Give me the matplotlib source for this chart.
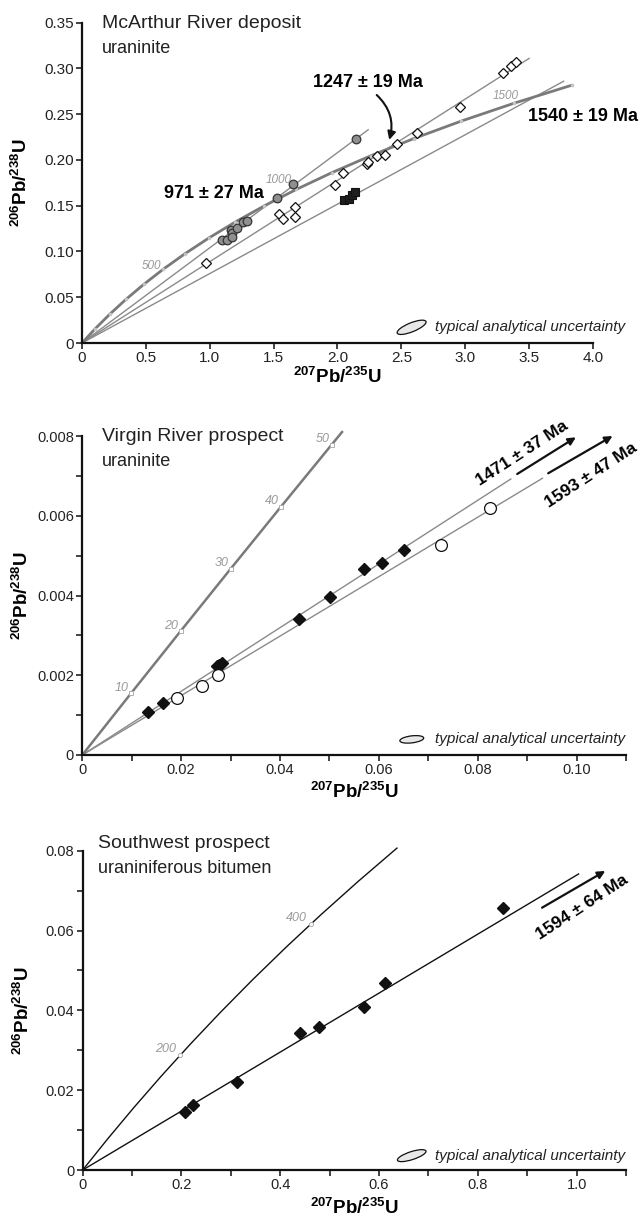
import matplotlib
matplotlib.use('Agg')
import matplotlib.pyplot as plt
from matplotlib.patches import Ellipse
from matplotlib.transforms import ScaledTranslation

plt.rcParams['font.family'] = ['Liberation Sans', 'DejaVu Sans']
plt.rcParams['mathtext.fontset'] = 'custom'
plt.rcParams['mathtext.rm'] = 'Liberation Sans:bold'
plt.rcParams['mathtext.it'] = 'Liberation Sans:bold'
plt.rcParams['mathtext.bf'] = 'Liberation Sans:bold'
plt.rcParams['mathtext.default'] = 'rm'

# ---------------- DATA ----------------
# Panel A: McArthur River deposit (uraninite)
concA_age = [0, 100, 200, 300, 400, 500, 600, 700, 800, 900, 1000, 1100, 1200, 1300, 1400, 1500, 1600]
concA_x = [0, 0.1035, 0.2177, 0.3437, 0.4828, 0.6362, 0.8056, 0.9925, 1.1987, 1.4263, 1.6774, 1.9545,
           2.2603, 2.5977, 2.9701, 3.3811, 3.8346]
concA_y = [0, 0.01563, 0.03151, 0.04764, 0.06402, 0.08065, 0.09754, 0.11470, 0.13213, 0.14983, 0.16781,
           0.18606, 0.20460, 0.22342, 0.24256, 0.26197, 0.28172]
concA_labels = [500, 1000, 1500]

lineA_971_x = [0, 2.24]
lineA_971_y = [0, 0.233]
lineA_1247_x = [0, 3.50]
lineA_1247_y = [0, 0.311]
lineA_1540_x = [0, 3.77]
lineA_1540_y = [0, 0.286]

circA_x = [1.093, 1.133, 1.166, 1.177, 1.172, 1.216, 1.258, 1.289, 1.524, 1.649, 2.142]
circA_y = [0.1126, 0.1126, 0.1235, 0.1199, 0.1155, 0.1260, 0.1326, 0.1337, 0.1581, 0.1738, 0.2230]
diamA_x = [0.968, 1.545, 1.571, 1.670, 1.670, 1.978, 2.046, 2.228, 2.241, 2.306, 2.372, 2.468, 2.620,
           2.959, 3.293, 3.356, 3.395]
diamA_y = [0.0871, 0.1413, 0.1358, 0.1490, 0.1377, 0.1730, 0.1854, 0.1953, 0.1982, 0.2044, 0.2055,
           0.2175, 0.2292, 0.2576, 0.2954, 0.3031, 0.3068]
sqA_x = [2.053, 2.090, 2.116, 2.137]
sqA_y = [0.1563, 0.1575, 0.1617, 0.1647]

A_xticks = [0, 0.5, 1.0, 1.5, 2.0, 2.5, 3.0, 3.5, 4.0]
A_xticklabels = ['0', '0.5', '1.0', '1.5', '2.0', '2.5', '3.0', '3.5', '4.0']
A_yticks = [0, 0.05, 0.10, 0.15, 0.20, 0.25, 0.30, 0.35]
A_yticklabels = ['0', '0.05', '0.10', '0.15', '0.20', '0.25', '0.30', '0.35']

# Panel B: Virgin River prospect (uraninite)
concB_age = [0, 10, 20, 30, 40, 50, 52]
concB_x = [0, 0.009897, 0.019893, 0.029986, 0.040180, 0.050475, 0.052546]
concB_y = [0, 0.0015525, 0.0031073, 0.0046646, 0.0062243, 0.0077863, 0.0080991]
concB_labels = [10, 20, 30, 40, 50]

lineB_1471_x = [0, 0.0867]
lineB_1471_y = [0, 0.006922]
lineB_1593_x = [0, 0.0931]
lineB_1593_y = [0, 0.00694]

diamB_x = [0.01323, 0.01638, 0.02718, 0.02770, 0.02820, 0.04383, 0.0501, 0.05704, 0.06068, 0.06513]
diamB_y = [0.001086, 0.001312, 0.002232, 0.002260, 0.002299, 0.003403, 0.00397, 0.004665, 0.004807, 0.005141]
circB_x = [0.01909, 0.02415, 0.02739, 0.07255, 0.08247]
circB_y = [0.001437, 0.001739, 0.002006, 0.005266, 0.006202]

B_xticks = [0, 0.01, 0.02, 0.03, 0.04, 0.05, 0.06, 0.07, 0.08, 0.09, 0.10, 0.11]
B_xticklabels = ['0', '', '0.02', '', '0.04', '', '0.06', '', '0.08', '', '0.10', '']
B_yticks = [0, 0.001, 0.002, 0.003, 0.004, 0.005, 0.006, 0.007, 0.008]
B_yticklabels = ['0', '', '0.002', '', '0.004', '', '0.006', '', '0.008']

# Panel C: Southwest prospect (uraniniferous bitumen)
concC_age = [0, 50, 100, 150, 200, 250, 300, 350, 400, 450, 500]
concC_x = [0, 0.050475, 0.10350, 0.15920, 0.21771, 0.27917, 0.34374, 0.41156, 0.48281, 0.55766, 0.63623]
concC_y = [0, 0.007786, 0.015633, 0.023542, 0.031511, 0.039543, 0.047638, 0.055795, 0.064016, 0.072300, 0.080650]
concC_mark_label = ['200', '400']
concC_mark_x = [0.196, 0.462]
concC_mark_y = [0.0288, 0.0617]

lineC_1594_x = [0, 1.004]
lineC_1594_y = [0, 0.07417]

diamC_x = [0.2065, 0.2233, 0.3121, 0.4401, 0.4777, 0.5686, 0.6124, 0.8506]
diamC_y = [0.01461, 0.01629, 0.02197, 0.0344, 0.0359, 0.04092, 0.04677, 0.06557]

C_xticks = [0, 0.1, 0.2, 0.3, 0.4, 0.5, 0.6, 0.7, 0.8, 0.9, 1.0, 1.1]
C_xticklabels = ['0', '', '0.2', '', '0.4', '', '0.6', '', '0.8', '', '1.0', '']
C_yticks = [0, 0.01, 0.02, 0.03, 0.04, 0.05, 0.06, 0.07, 0.08]
C_yticklabels = ['0', '', '0.02', '', '0.04', '', '0.06', '', '0.08']

XLABEL = r'$^{207}$Pb/$^{235}$U'
YLABEL = r'$^{206}$Pb/$^{238}$U'

# ---------------- FIGURE ----------------
W, H = 641, 1220
fig = plt.figure(figsize=(W / 100, H / 100), dpi=100)


def make_axes(l, r, t, b):
    return fig.add_axes([l / W, 1 - b / H, (r - l) / W, (b - t) / H])


def style(ax, xt, xtl, yt, ytl, xlim, ylim, fs, ylab_x, xlab_y):
    ax.set_xlim(*xlim)
    ax.set_ylim(*ylim)
    for s in ['top', 'right']:
        ax.spines[s].set_visible(False)
    for s in ['left', 'bottom']:
        ax.spines[s].set_linewidth(1.6)
        ax.spines[s].set_color('#111111')
    ax.set_xticks(xt)
    ax.set_xticklabels(xtl)
    ax.set_yticks(yt)
    ax.set_yticklabels(ytl)
    ax.tick_params(direction='out', length=4, width=1.2, labelsize=fs, colors='#222222', pad=2)
    ax.set_xlabel(XLABEL, fontsize=13.5, fontweight='bold')
    ax.set_ylabel(YLABEL, fontsize=13.5, fontweight='bold')
    ax.xaxis.set_label_coords(0.5, xlab_y)
    ax.yaxis.set_label_coords(ylab_x, 0.5)
    ax.patch.set_alpha(0)


def uncertainty(ax, xf, yf, w, h, ang, tx):
    tr = fig.dpi_scale_trans + ScaledTranslation(xf, yf, ax.transAxes)
    e = Ellipse((0, 0), w / 100, h / 100, angle=ang, transform=tr, facecolor='#e8e8e8',
                edgecolor='#111111', lw=0.9, clip_on=False, zorder=5)
    ax.add_patch(e)
    ax.text(tx, yf, 'typical analytical uncertainty', transform=ax.transAxes, fontsize=11,
            style='italic', ha='left', va='center', color='#222222')


def age_label(ax, txt, x, y, dx=-1.5, dy=3.5, fs=8.5):
    ax.annotate(txt, (x, y), xytext=(dx, dy), textcoords='offset points', ha='right', va='center',
                fontsize=fs, style='italic', color='#999999', annotation_clip=False, zorder=6)


# ---- Panel A ----
axA = make_axes(82, 593, 22.7, 343)
axA.plot(lineA_971_x, lineA_971_y, color='#8a8a8a', lw=1.0, zorder=2)
axA.plot(lineA_1247_x, lineA_1247_y, color='#8a8a8a', lw=1.0, zorder=2)
axA.plot(lineA_1540_x, lineA_1540_y, color='#8a8a8a', lw=1.0, zorder=2)
axA.plot(concA_x, concA_y, color='#7a7a7a', lw=2.0, zorder=2, solid_capstyle='round')
axA.plot(concA_x[1:], concA_y[1:], ls='none', marker='o', ms=2.6, mfc='#c4c4c4', mec='none', zorder=3)
labA_off = {500: (-1.5, 2.5), 1000: (-3.0, 6.5), 1500: (3.5, 5.5)}
for a, x, y in zip(concA_age, concA_x, concA_y):
    if a in concA_labels:
        age_label(axA, str(a), x, y, dx=labA_off[a][0], dy=labA_off[a][1])
axA.plot(circA_x, circA_y, ls='none', marker='o', ms=6.2, mfc='#8f8f8f', mec='#333333', mew=0.9, zorder=4)
axA.plot(diamA_x, diamA_y, ls='none', marker='D', ms=4.8, mfc='white', mec='#111111', mew=0.9, zorder=4)
axA.plot(sqA_x, sqA_y, ls='none', marker='s', ms=5.4, mfc='#1e1e1e', mec='#111111', mew=0.8, zorder=4)
axA.text(1.033, 0.163, '971 ± 27 Ma', fontsize=13, fontweight='bold', ha='center', va='center')
axA.text(2.239, 0.2852, '1247 ± 19 Ma', fontsize=13, fontweight='bold', ha='center', va='center')
axA.text(3.489, 0.2473, '1540 ± 19 Ma', fontsize=13, fontweight='bold', ha='left', va='center', clip_on=False)
axA.annotate('', xy=(2.405, 0.2219), xytext=(2.307, 0.2710),
             arrowprops=dict(arrowstyle='-|>', color='#111111', lw=1.5, mutation_scale=12,
                             connectionstyle='arc3,rad=-0.3', shrinkA=0, shrinkB=0))
axA.text(0.0386, 0.998, 'McArthur River deposit', transform=axA.transAxes, fontsize=14, ha='left',
         va='center', color='#222222')
axA.text(0.0386, 0.920, 'uraninite', transform=axA.transAxes, fontsize=13, ha='left', va='center',
         color='#222222')
uncertainty(axA, 0.645, 0.049, 31, 9, 22, 0.691)
style(axA, A_xticks, A_xticklabels, A_yticks, A_yticklabels, (0, 4.0), (0, 0.35), 11, -0.10, -0.075)

# ---- Panel B ----
axB = make_axes(82.3, 626, 436, 755)
axB.plot(lineB_1471_x, lineB_1471_y, color='#8a8a8a', lw=1.0, zorder=2)
axB.plot(lineB_1593_x, lineB_1593_y, color='#8a8a8a', lw=1.0, zorder=2)
axB.plot(concB_x, concB_y, color='#7a7a7a', lw=1.8, zorder=2, clip_on=False)
for a, x, y in zip(concB_age, concB_x, concB_y):
    if a in concB_labels:
        axB.plot([x], [y], ls='none', marker='s', ms=2.8, mfc='white', mec='#b0b0b0', mew=0.7, zorder=3)
        age_label(axB, str(a), x, y, dx=-1.5, dy=4, fs=9)
axB.plot(diamB_x, diamB_y, ls='none', marker='D', ms=6.5, mfc='#111111', mec='#111111', zorder=4)
axB.plot(circB_x, circB_y, ls='none', marker='o', ms=8.5, mfc='white', mec='#111111', mew=0.9, zorder=4)
axB.annotate('', xy=(0.09986, 0.007967), xytext=(0.08799, 0.007047), annotation_clip=False,
             arrowprops=dict(arrowstyle='-|>', color='#111111', lw=1.6, mutation_scale=11,
                             shrinkA=0, shrinkB=0))
axB.annotate('', xy=(0.10728, 0.0080), xytext=(0.09426, 0.007065), annotation_clip=False,
             arrowprops=dict(arrowstyle='-|>', color='#111111', lw=1.6, mutation_scale=11,
                             shrinkA=0, shrinkB=0))
axB.text(0.08894, 0.007574, '1471 ± 37 Ma', fontsize=12.5, fontweight='bold', rotation=33,
         rotation_mode='anchor', ha='center', va='center', clip_on=False)
axB.text(0.1029, 0.007022, '1593 ± 47 Ma', fontsize=12.5, fontweight='bold', rotation=33,
         rotation_mode='anchor', ha='center', va='center', clip_on=False)
axB.text(0.0357, 0.998, 'Virgin River prospect', transform=axB.transAxes, fontsize=14, ha='left',
         va='center', color='#222222')
axB.text(0.0357, 0.919, 'uraninite', transform=axB.transAxes, fontsize=13, ha='left', va='center',
         color='#222222')
uncertainty(axB, 0.606, 0.049, 24, 7, 7, 0.649)
style(axB, B_xticks, B_xticklabels, B_yticks, B_yticklabels, (0, 0.11), (0, 0.008), 10.5, -0.092, -0.085)

# ---- Panel C ----
axC = make_axes(82.7, 626, 850.7, 1170)
axC.plot(concC_x, concC_y, color='#111111', lw=1.0, zorder=2, clip_on=False)
axC.plot(lineC_1594_x, lineC_1594_y, color='#111111', lw=1.0, zorder=2)
for t, x, y in zip(concC_mark_label, concC_mark_x, concC_mark_y):
    axC.plot([x], [y], ls='none', marker='o', ms=3.0, mfc='white', mec='#b0b0b0', mew=0.7, zorder=3)
    age_label(axC, t, x, y, dx=-2.5, dy=4, fs=9)
axC.plot(diamC_x, diamC_y, ls='none', marker='D', ms=6.5, mfc='#111111', mec='#111111', zorder=4)
axC.annotate('', xy=(1.058, 0.07492), xytext=(0.930, 0.06572), annotation_clip=False,
             arrowprops=dict(arrowstyle='-|>', color='#111111', lw=1.6, mutation_scale=11,
                             shrinkA=0, shrinkB=0))
axC.text(1.012, 0.0659, '1594 ± 64 Ma', fontsize=12.5, fontweight='bold', rotation=33,
         rotation_mode='anchor', ha='center', va='center', clip_on=False)
axC.text(0.0287, 1.023, 'Southwest prospect', transform=axC.transAxes, fontsize=14, ha='left',
         va='center', color='#222222')
axC.text(0.0287, 0.945, 'uraniniferous bitumen', transform=axC.transAxes, fontsize=13, ha='left',
         va='center', color='#222222')
uncertainty(axC, 0.6056, 0.045, 30, 8, 18, 0.648)
style(axC, C_xticks, C_xticklabels, C_yticks, C_yticklabels, (0, 1.1), (0, 0.08), 10.5, -0.092, -0.088)

fig.savefig('out.png', dpi=100)
